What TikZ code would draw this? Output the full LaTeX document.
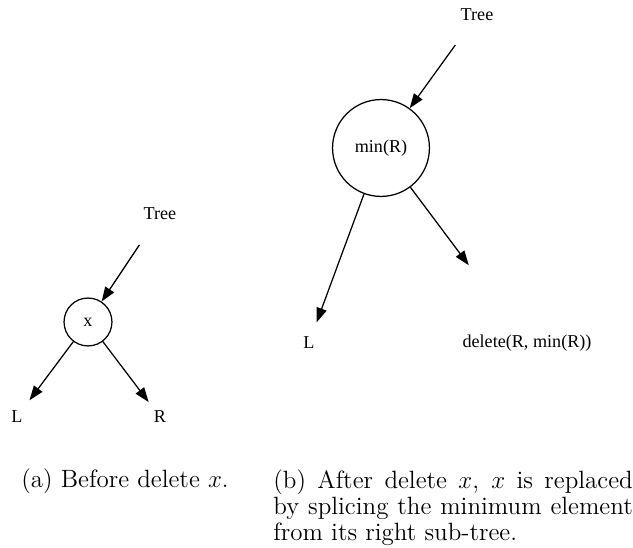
\documentclass[tikz,border=0pt]{standalone}
\usepackage{fontspec}
\newfontfamily\gvfont{Liberation Serif}
\usetikzlibrary{arrows.meta}
\begin{document}
\begin{tikzpicture}[x=0.48pt,y=-0.48pt,
  lbl/.style={font=\gvfont\fontsize{8.7}{10}\selectfont, inner sep=0pt},
  vtx/.style={lbl, draw, circle, line width=0.6pt},
  edge/.style={line width=0.6pt, -{Triangle[length=7pt,width=5pt]}},
  captxt/.style={inner sep=0pt, font=\fontsize{12}{12.5}\selectfont}]
\useasboundingbox (0,0) rectangle (633,548);
% (a)
\node[lbl] (ta) at (160,214) {Tree};
\node[vtx, minimum size=23pt] (xa) at (88,322) {x};
\node[lbl] (la) at (17,417) {L};
\node[lbl] (ra) at (160,417) {R};
\draw[edge, shorten <=17.8pt] (ta.center) -- (xa);
\draw[edge, shorten >=10pt] (xa) -- (la.center);
\draw[edge, shorten >=9pt] (xa) -- (ra.center);
% (b)
\node[lbl] (tb) at (477,15) {Tree};
\node[vtx, minimum size=46.5pt] (xb) at (381,148) {min(R)};
\node[lbl] (lb) at (309,343) {L};
\node[lbl] (db) at (527,343) {delete(R, min(R))};
\draw[edge, shorten <=17.8pt] (tb.center) -- (xb);
\draw[edge, shorten >=10.5pt] (xb) -- (lb.center);
\draw[edge, shorten >=46.6pt] (xb) -- (db.center);
% captions
\node[captxt, anchor=base west] (ca) at (21,488) {(a) Before delete $x$.};
\node[captxt, anchor=north west, text width=172.5pt, align=justify] (cb) at (273,469.5)
  {(b) After delete $x$, $x$ is replaced\linebreak by splicing the minimum element\linebreak from its right sub-tree.};
\end{tikzpicture}
\end{document}
